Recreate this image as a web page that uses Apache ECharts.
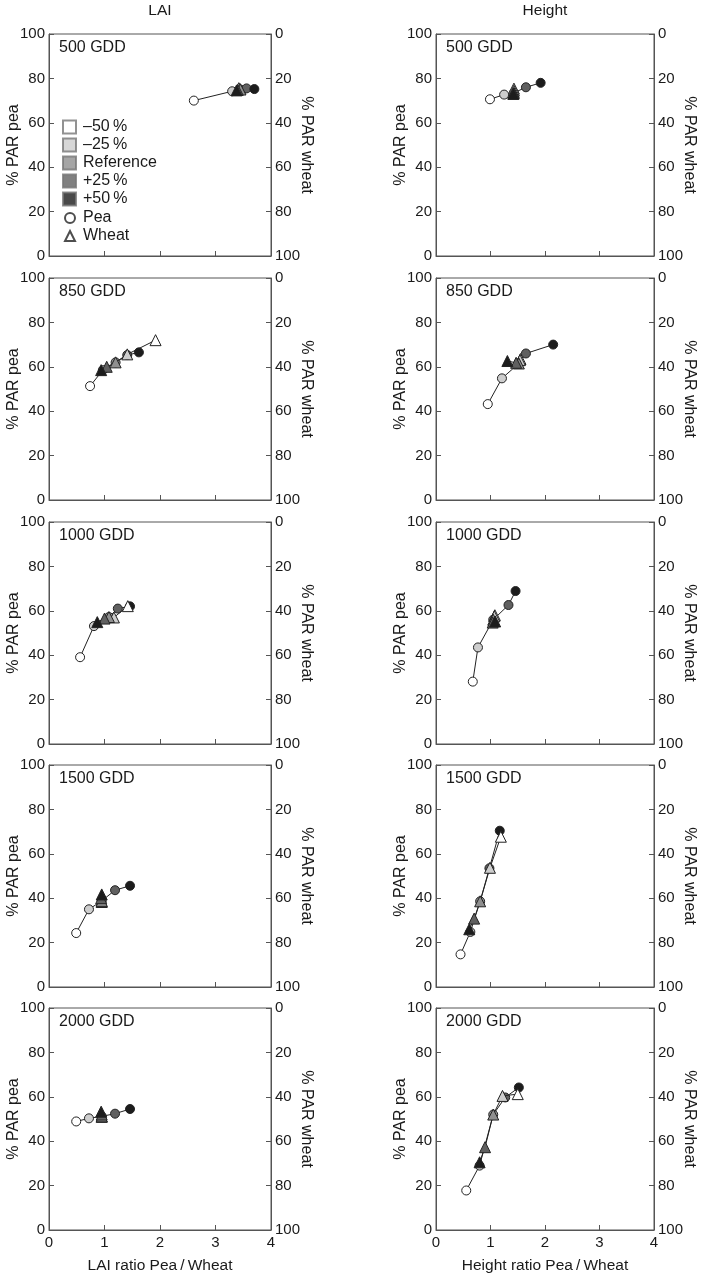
<!DOCTYPE html>
<html><head><meta charset="utf-8">
<script src="https://cdn.jsdelivr.net/npm/echarts@6/dist/echarts.min.js"></script>
<style>html,body{margin:0;padding:0;background:#fff}#c{width:708px;height:1276px}</style>
</head><body><div id="c"></div>
<script>
// ---- data ----
const levelNames = ['\u201350\u2009%', '\u201325\u2009%', 'Reference', '+25\u2009%', '+50\u2009%'];
const stages = ['500 GDD', '850 GDD', '1000 GDD', '1500 GDD', '2000 GDD'];
const columnTitles = ['LAI', 'Height'];
const xAxisNames = ['LAI ratio Pea\u2009/\u2009Wheat', 'Height ratio Pea\u2009/\u2009Wheat'];
const xTicks = [0, 1, 2, 3, 4];
const yTicks = [0, 20, 40, 60, 80, 100];

// LAI column: index 0..4 = -50%, -25%, Reference, +25%, +50%
const laiPeaRatio = [
  [2.61, 3.30, 3.45, 3.56, 3.70],
  [0.74, 0.97, 1.20, 1.41, 1.62],
  [0.56, 0.81, 1.08, 1.24, 1.46],
  [0.49, 0.72, 0.95, 1.19, 1.46],
  [0.49, 0.72, 0.95, 1.19, 1.46]
];
const laiPeaPAR = [
  [70.0, 74.2, 75.0, 75.5, 75.2],
  [51.3, 58.5, 62.0, 65.3, 66.5],
  [39.1, 53.1, 57.2, 61.0, 62.0],
  [24.3, 35.0, 38.8, 43.6, 45.6],
  [48.9, 50.3, 51.2, 52.4, 54.5]
];
const laiWheatRatio = [
  [3.42, 3.44, 3.45, 3.40, 3.38],
  [1.92, 1.41, 1.20, 1.04, 0.94],
  [1.42, 1.17, 1.08, 1.00, 0.87],
  [0.95, 0.95, 0.95, 0.94, 0.95],
  [0.95, 0.95, 0.95, 0.95, 0.94]
];
const laiWheatPAR = [
  [24.4, 24.7, 25.0, 25.2, 25.4],
  [28.0, 34.4, 38.0, 40.0, 41.5],
  [37.9, 43.0, 42.8, 43.5, 45.1],
  [61.7, 61.5, 61.2, 60.0, 58.3],
  [49.0, 48.9, 48.8, 48.0, 46.7]
];

// Height column
const heightPeaRatio = [
  [0.99, 1.25, 1.43, 1.65, 1.92],
  [0.95, 1.21, 1.52, 1.65, 2.15],
  [0.675, 0.77, 1.05, 1.33, 1.46],
  [0.45, 0.63, 0.81, 0.98, 1.17],
  [0.555, 0.80, 1.05, 1.27, 1.52]
];
const heightPeaPAR = [
  [70.6, 72.7, 73.5, 76.0, 78.0],
  [43.2, 54.8, 61.5, 66.0, 70.0],
  [28.1, 43.5, 56.0, 62.6, 68.9],
  [14.7, 24.8, 38.6, 53.5, 70.4],
  [17.8, 29.0, 52.0, 59.7, 64.2]
];
const heightWheatRatio = [
  [1.43, 1.43, 1.43, 1.42, 1.42],
  [1.55, 1.54, 1.52, 1.47, 1.31],
  [1.08, 1.07, 1.05, 1.04, 1.085],
  [1.19, 0.99, 0.81, 0.70, 0.61],
  [1.50, 1.22, 1.05, 0.90, 0.80]
];
const heightWheatPAR = [
  [24.6, 25.5, 26.5, 26.8, 27.0],
  [36.5, 37.0, 38.5, 38.2, 37.4],
  [42.0, 42.5, 44.0, 45.3, 44.8],
  [32.3, 46.3, 61.4, 69.2, 74.0],
  [38.8, 39.6, 48.0, 62.7, 69.5]
];

// ---- style ----
const levelColors = ['#ffffff', '#cdcdcd', '#8f8f8f', '#606060', '#1c1c1c'];
const FONT = "'Liberation Sans', Arial, Helvetica, sans-serif";
const TXT = '#1a1a1a';
const AX = '#555555';
const colLeft = [49, 436];
const colWidth = [222, 218];
const rowTop = [34, 278, 522, 765, 1008];
const panelH = 222;

const cols = [
  {peaX: laiPeaRatio, peaY: laiPeaPAR, whX: laiWheatRatio, whY: laiWheatPAR},
  {peaX: heightPeaRatio, peaY: heightPeaPAR, whX: heightWheatRatio, whY: heightWheatPAR}
];

const grid = [], xAxis = [], yAxis = [], series = [], graphic = [];
let k = 0;
for (let c = 0; c < 2; c++) {
  for (let r = 0; r < 5; r++) {
    grid.push({left: colLeft[c], top: rowTop[r], width: colWidth[c], height: panelH,
      show: true, borderColor: AX, borderWidth: 1, backgroundColor: 'transparent'});
    xAxis.push({
      type: 'value', gridIndex: k, min: xTicks[0], max: xTicks[xTicks.length - 1], interval: 1,
      axisLine: {show: true, lineStyle: {color: AX, width: 1}},
      axisTick: {show: true, inside: true, length: 5, lineStyle: {color: AX}},
      axisLabel: {show: r === 4, color: TXT, fontSize: 15, fontFamily: FONT, margin: 5},
      splitLine: {show: false},
      name: r === 4 ? xAxisNames[c] : '', nameLocation: 'middle', nameGap: 28,
      nameTextStyle: {color: TXT, fontSize: 15.5, fontFamily: FONT}
    });
    yAxis.push({
      type: 'value', gridIndex: k, min: 0, max: 100, interval: 20, position: 'left',
      axisLine: {show: true, lineStyle: {color: AX, width: 1}},
      axisTick: {show: true, inside: true, length: 5, lineStyle: {color: AX}},
      axisLabel: {color: TXT, fontSize: 15, fontFamily: FONT, margin: 4},
      splitLine: {show: false},
      name: '% PAR pea', nameLocation: 'middle', nameRotate: 90, nameGap: 27, nameMoveOverlap: false,
      nameTextStyle: {color: TXT, fontSize: 16, fontFamily: FONT}
    });
    yAxis.push({
      type: 'value', gridIndex: k, min: 0, max: 100, interval: 20, position: 'right', inverse: true,
      axisLine: {show: true, lineStyle: {color: AX, width: 1}},
      axisTick: {show: true, inside: true, length: 5, lineStyle: {color: AX}},
      axisLabel: {color: TXT, fontSize: 15, fontFamily: FONT, margin: 4},
      splitLine: {show: false},
      name: '% PAR wheat', nameLocation: 'middle', nameRotate: -90, nameGap: 27, nameMoveOverlap: false,
      nameTextStyle: {color: TXT, fontSize: 16, fontFamily: FONT}
    });
    const d = cols[c];
    series.push({
      type: 'line', xAxisIndex: k, yAxisIndex: 2 * k, symbol: 'circle', symbolSize: 9,
      lineStyle: {color: '#222', width: 1}, z: 3,
      itemStyle: {borderColor: '#222', borderWidth: 1},
      data: d.peaX[r].map((x, i) => ({value: [x, d.peaY[r][i]], itemStyle: {color: levelColors[i]}}))
    });
    series.push({
      type: 'line', xAxisIndex: k, yAxisIndex: 2 * k + 1, symbol: 'triangle', symbolSize: 11,
      lineStyle: {color: '#222', width: 1}, z: 4,
      itemStyle: {borderColor: '#222', borderWidth: 1},
      data: d.whX[r].map((x, i) => ({value: [x, d.whY[r][i]], itemStyle: {color: levelColors[i]}}))
    });
    graphic.push({type: 'text', left: colLeft[c] + 10, top: rowTop[r] + 6,
      style: {text: stages[r], fontSize: 16, fontFamily: FONT, fill: TXT}});
    k++;
  }
}
graphic.push({type: 'text', x: 160, y: 11, style: {text: columnTitles[0], fontSize: 15.5, fontFamily: FONT, fill: TXT, textAlign: 'center', textVerticalAlign: 'middle'}});
graphic.push({type: 'text', x: 545, y: 11, style: {text: columnTitles[1], fontSize: 15.5, fontFamily: FONT, fill: TXT, textAlign: 'center', textVerticalAlign: 'middle'}});

// legend-only series
levelNames.forEach((n, i) => series.push({type: 'scatter', name: n, xAxisIndex: 0, yAxisIndex: 0, data: [],
  itemStyle: {color: levelColors[i], borderColor: '#777', borderWidth: 1}}));
series.push({type: 'scatter', name: 'Pea', xAxisIndex: 0, yAxisIndex: 0, data: [], symbol: 'circle',
  itemStyle: {color: '#fff', borderColor: '#222', borderWidth: 1}});
series.push({type: 'scatter', name: 'Wheat', xAxisIndex: 0, yAxisIndex: 0, data: [], symbol: 'triangle',
  itemStyle: {color: '#fff', borderColor: '#222', borderWidth: 1}});

const option = {
  animation: false,
  backgroundColor: '#fff',
  grid, xAxis, yAxis, series, graphic,
  legend: [
    {orient: 'vertical', left: 57, top: 114, itemWidth: 13, itemHeight: 13, itemGap: 2, selectedMode: false,
      data: levelNames.map(n => ({name: n, icon: 'rect'})),
      textStyle: {color: TXT, fontSize: 16, fontFamily: FONT, padding: [0, 0, 0, 2]}},
    {orient: 'vertical', left: 59, top: 205, itemWidth: 10, itemHeight: 10, itemGap: 2, selectedMode: false,
      data: [{name: 'Pea', icon: 'circle'}, {name: 'Wheat', icon: 'triangle'}],
      textStyle: {color: TXT, fontSize: 16, fontFamily: FONT, padding: [0, 0, 0, 3]}}
  ]
};
const chart = echarts.init(document.getElementById('c'), null, {renderer: 'canvas'});
chart.setOption(option);
</script></body></html>
